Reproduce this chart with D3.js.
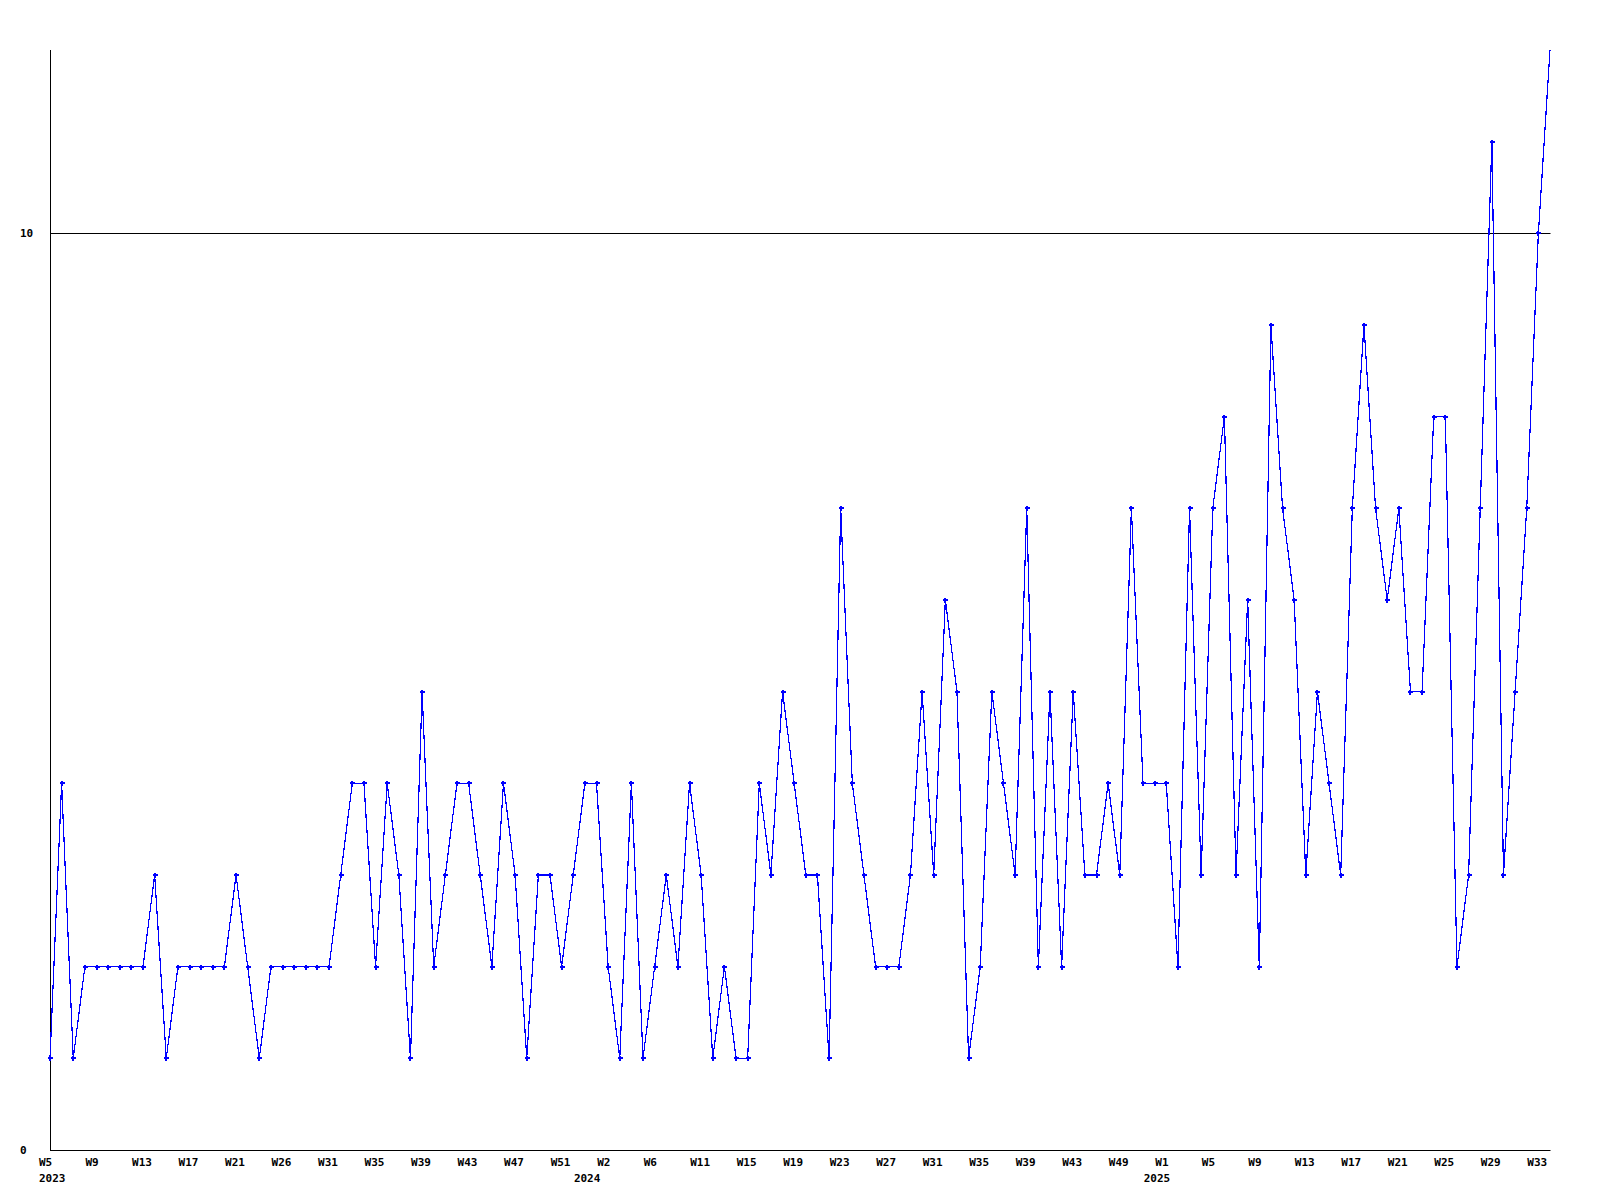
<!DOCTYPE html>
<html>
<head>
<meta charset="utf-8">
<script src="https://cdn.jsdelivr.net/npm/d3@7/dist/d3.min.js"></script>
<style>
  html, body { margin: 0; padding: 0; background: #fff; }
  svg { display: block; }
  text { font-family: "DejaVu Sans Mono", "Liberation Mono", monospace; font-weight: bold; font-size: 11px; fill: #000; }
</style>
</head>
<body>
<svg id="chart" width="1600" height="1200"></svg>
<script>
// Weekly counts, one per plotted point (evenly spaced)
const values = [
  1,4,1,2,2,2,2,2,2,3,1,2,2,2,2,2,3,2,1,2,2,2,
  2,2,2,3,4,4,2,4,3,1,5,2,3,4,4,3,2,4,3,1,3,3,
  2,3,4,4,2,1,4,1,2,3,2,4,3,1,2,1,1,4,3,5,4,
  3,3,1,7,4,3,2,2,2,3,5,3,6,5,1,2,5,4,3,7,2,5,
  2,5,3,3,4,3,7,4,4,4,2,7,3,7,8,3,6,2,9,7,6,
  3,5,4,3,7,9,7,6,7,5,5,8,8,2,3,7,11,3,5,7,10,12
];
// Week tick labels (point index -> label)
const weekTickIndex = [0,4,8,12,16,20,24,28,32,36,40,44,48,52,56,60,64,68,72,76,80,84,88,92,96,100,104,108,112,116,120,124,128];
const weekTickLabel = ["W5","W9","W13","W17","W21","W26","W31","W35","W39","W43","W47","W51","W2","W6","W11","W15","W19","W23","W27","W31","W35","W39","W43","W49","W1","W5","W9","W13","W17","W21","W25","W29","W33"];
// Year labels
const yearIndex = [0, 46, 95];
const yearLabel = ["2023", "2024", "2025"];
// Y axis labels
const yTicks = [0, 10];
const yMax = 12;

(function () {
  const svg = d3.select("#chart");
  const mLeft = 50, mRight = 1550, mTop = 50, mBottom = 1150;

  const x = d3.scaleLinear().domain([0, values.length - 1]).range([mLeft, mRight]);
  const y = d3.scaleLinear().domain([0, yMax]).range([mBottom, mTop]);

  // gridline at 10
  svg.selectAll("line.grid").data(yTicks.filter(d => d > 0)).enter().append("line")
    .attr("class", "grid")
    .attr("x1", mLeft).attr("x2", mRight + 0.5)
    .attr("y1", d => Math.round(y(d)) + 0.5).attr("y2", d => Math.round(y(d)) + 0.5)
    .attr("stroke", "#000").attr("stroke-width", 1);

  // axes lines
  svg.append("line").attr("x1", mLeft + 0.5).attr("x2", mLeft + 0.5).attr("y1", mTop).attr("y2", mBottom + 0.5)
    .attr("stroke", "#000").attr("stroke-width", 1);
  svg.append("line").attr("x1", mLeft).attr("x2", mRight + 0.5).attr("y1", mBottom + 0.5).attr("y2", mBottom + 0.5)
    .attr("stroke", "#000").attr("stroke-width", 1);

  // y labels
  svg.selectAll("text.ylab").data(yTicks).enter().append("text")
    .attr("class", "ylab")
    .attr("x", 20)
    .attr("y", d => d === 0 ? y(d) + 4 : y(d) + 4)
    .text(d => d);

  // x week labels
  svg.selectAll("text.wk").data(weekTickIndex).enter().append("text")
    .attr("class", "wk")
    .attr("x", d => x(d) - 11)
    .attr("y", 1166)
    .text((d, i) => weekTickLabel[i]);

  // year labels
  svg.selectAll("text.yr").data(yearIndex).enter().append("text")
    .attr("class", "yr")
    .attr("x", d => x(d) - 11)
    .attr("y", 1182)
    .text((d, i) => yearLabel[i]);

  // line
  const line = d3.line().x((d, i) => x(i)).y(d => y(d));
  svg.append("path").datum(values)
    .attr("d", line)
    .attr("fill", "none")
    .attr("stroke", "#0000ff")
    .attr("stroke-width", 1.2)
    .attr("shape-rendering", "crispEdges");

  // markers (the final point at the top edge shows no marker)
  const markerData = values.slice(0, values.length - 1);
  svg.selectAll("path.mk").data(markerData).enter().append("path")
    .attr("class", "mk")
    .attr("d", (d, i) => {
      const cx = Math.round(x(i)), cy = Math.round(y(d));
      return `M${cx - 2},${cy}H${cx + 3}M${cx},${cy - 2}V${cy + 3}`;
    })
    .attr("stroke", "#0000ff")
    .attr("stroke-width", 2)
    .attr("shape-rendering", "crispEdges")
    .attr("fill", "none");
})();
</script>
</body>
</html>
